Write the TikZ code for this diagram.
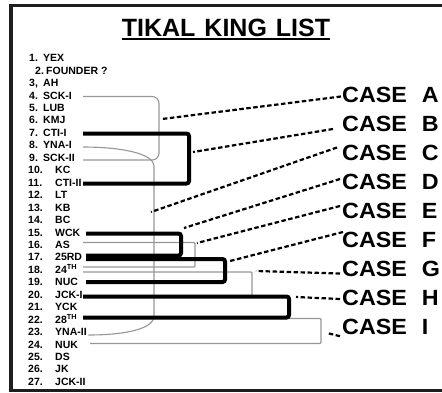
\documentclass[tikz,border=0pt]{standalone}
\usepackage{fontspec}
\setmainfont{Liberation Sans}
\newfontfamily\casefont{Liberation Sans}[FakeStretch=1.06]
\usepackage{tikz}
\usetikzlibrary{positioning,calc}
\definecolor{framec}{RGB}{30,30,30}
\definecolor{greyc}{RGB}{150,150,150}
\tikzset{
  num/.style     = {anchor=west, inner sep=0pt, font=\fontsize{10.5}{12}\selectfont\bfseries,
                    text height=7.5pt, text depth=2pt},
  king/.style    = {num},
  header/.style  = {anchor=base, inner sep=0pt, font=\fontsize{25}{28}\selectfont\bfseries},
  casebox/.style = {anchor=west, inner sep=0pt, font=\casefont\fontsize{22}{24}\selectfont\bfseries,
                    text height=15.75pt, text depth=0pt},
  faded/.style   = {draw=greyc, line width=1.1pt},
  heavy/.style   = {draw=black, line width=4pt, rounded corners=2.5pt},
  pointer/.style = {draw=black, line width=2.2pt, dash pattern=on 4.5pt off 2.5pt},
}

\begin{document}
\begin{tikzpicture}[x=1pt, y=-1pt]
\useasboundingbox (0,0) rectangle (442,392);

% frame and title
\draw[framec, line width=3.5pt] (442,5.5) -- (11,5.5) -- (11,390.5) -- (442,390.5);
\node[header] (title) at (226,36) {TIKAL\hspace{0.36em}KING\hspace{0.36em}LIST};
\draw[line width=2.6pt] ($(title.base west)+(0,3)$) -- ($(title.base east)+(0,3)$);

% the list
\node[num] (n1)  at (29,59)    {1.};  \node[king] (k1)  at (43,59)    {YEX};
\node[num] (n2)  at (35,71.5)  {2.};  \node[king] (k2)  at (46,71.5)  {FOUNDER ?};
\node[num] (n3)  at (29,84)    {3,};  \node[king] (k3)  at (43,84)    {AH};
\node[num] (n4)  at (29,96.5)  {4.};  \node[king] (k4)  at (43,96.5)  {SCK-I};
\node[num] (n5)  at (29,109)   {5.};  \node[king] (k5)  at (43,109)   {LUB};
\node[num] (n6)  at (29,121)   {6.};  \node[king] (k6)  at (43,121)   {KMJ};
\node[num] (n7)  at (29,133.5) {7.};  \node[king] (k7)  at (43,133.5) {CTI-I};
\node[num] (n8)  at (29,146)   {8.};  \node[king] (k8)  at (43,146)   {YNA-I};
\node[num] (n9)  at (29,158.5) {9.};  \node[king] (k9)  at (43,158.5) {SCK-II};
\node[num] (n10) at (28,171)   {10.}; \node[king] (k10) at (55,171)   {KC};
\node[num] (n11) at (28,183.5) {11.}; \node[king] (k11) at (55,183.5) {CTI-II};
\node[num] (n12) at (28,196)   {12.}; \node[king] (k12) at (55,196)   {LT};
\node[num] (n13) at (28,208.5) {13.}; \node[king] (k13) at (55,208.5) {KB};
\node[num] (n14) at (28,221)   {14.}; \node[king] (k14) at (55,221)   {BC};
\node[num] (n15) at (28,233.5) {15.}; \node[king] (k15) at (55,233.5) {WCK};
\node[num] (n16) at (28,246)   {16.}; \node[king] (k16) at (55,246)   {AS};
\node[num] (n17) at (28,258)   {17.}; \node[king] (k17) at (55,258)   {25RD};
\node[num] (n18) at (28,270.5) {18.}; \node[king] (k18) at (55,270.5) {24\textsuperscript{TH}};
\node[num] (n19) at (28,283)   {19.}; \node[king] (k19) at (55,283)   {NUC};
\node[num] (n20) at (28,295.5) {20.}; \node[king] (k20) at (55,295.5) {JCK-I};
\node[num] (n21) at (28,308)   {21.}; \node[king] (k21) at (55,308)   {YCK};
\node[num] (n22) at (28,320.5) {22.}; \node[king] (k22) at (55,320.5) {28\textsuperscript{TH}};
\node[num] (n23) at (28,333)   {23.}; \node[king] (k23) at (55,333)   {YNA-II};
\node[num] (n24) at (28,345.5) {24.}; \node[king] (k24) at (55,345.5) {NUK};
\node[num] (n25) at (28,358)   {25.}; \node[king] (k25) at (55,358)   {DS};
\node[num] (n26) at (28,370)   {26.}; \node[king] (k26) at (55,370)   {JK};
\node[num] (n27) at (28,382.5) {27.}; \node[king] (k27) at (55,382.5) {JCK-II};

\coordinate (gx) at (83,0);
\coordinate (tx) at (86,0);

% grey brackets
\draw[faded, rounded corners=7pt] (k4.east -| gx) -| (159,130) |- ($(k9.east -| gx)+(0,1.5)$);
\draw[faded] ($(k8.east -| gx)+(0,1)$) .. controls +(40,0) and +(0,-12) .. (154,166)
  -- (154,316) .. controls +(0,12) and +(40,0) .. ($(k23.east)+(1.5,2)$);
\draw[faded, rounded corners=1pt] ($(k16.east -| gx)+(0,-3.5)$) -| (195,255) |- ($(k18.east -| gx)+(0,-3.5)$);
\draw[faded, rounded corners=1pt] ($(k18.east -| gx)+(0,1.5)$) -| (252,285) |- (k20.east -| gx);
\draw[faded, rounded corners=1pt] ($(k22.east -| gx)+(0,-2)$) -| (321,330) |- ($(k24.east)+(12,-2)$);

% black brackets
\draw[heavy] (k7.east -| gx) -| (189,160) |- (k11.east -| gx);
\draw[heavy] (k15.east -| tx) -| (181,245) |- ($(k17.east -| tx)+(0,-2.5)$);
\draw[heavy] ($(k17.east -| tx)+(0,1)$) -| (225,270) |- ($(k19.east -| tx)+(0,-1)$);
\draw[heavy] ($(k20.east -| gx)+(0,1)$) -| (289,305) |- ($(k22.east -| gx)+(0,-3)$);

% cases
\node[casebox] (caseA) at (342,94.5) {CASE\hspace{15pt}A};
\node[casebox, below=12.85pt of caseA.south west, anchor=north west] (caseB) {CASE\hspace{15pt}B};
\node[casebox, below=12.85pt of caseB.south west, anchor=north west] (caseC) {CASE\hspace{15pt}C};
\node[casebox, below=12.85pt of caseC.south west, anchor=north west] (caseD) {CASE\hspace{15pt}D};
\node[casebox, below=12.85pt of caseD.south west, anchor=north west] (caseE) {CASE\hspace{15pt}E};
\node[casebox, below=12.85pt of caseE.south west, anchor=north west] (caseF) {CASE\hspace{15pt}F};
\node[casebox, below=12.85pt of caseF.south west, anchor=north west] (caseG) {CASE\hspace{15pt}G};
\node[casebox, below=12.85pt of caseG.south west, anchor=north west] (caseH) {CASE\hspace{15pt}H};
\node[casebox, below=12.85pt of caseH.south west, anchor=north west] (caseI) {CASE\hspace{15pt}I};

\coordinate (pA) at (162,119);
\coordinate (pB) at (193,152);
\coordinate (pC) at (151,212);
\coordinate (pD) at (184,228);
\coordinate (pE) at (197,243);
\coordinate (pF) at (230,261);
\coordinate (pG) at (256,271);
\coordinate (pH) at (296,297);
\coordinate (pI) at (327,333);

\draw[pointer] (caseA.west) ++(-1,2)   -- (pA);
\draw[pointer] (caseB.west) ++(-9,5.5) -- (pB);
\draw[pointer] (caseC.west) ++(-5,-5)  -- (pC);
\draw[pointer] (caseD.west) ++(-2,-2.5) -- (pD);
\draw[pointer] (caseE.west) ++(-2,-4.5) -- (pE);
\draw[pointer] (caseF.west) ++(1,-7.5) -- (pF);
\draw[pointer] (caseG.west) ++(-2,5)   -- (pG);
\draw[pointer] (caseH.west) ++(-2,1.5) -- (pH);
\draw[pointer] (caseI.west) ++(-2,9.7) -- (pI);

\end{tikzpicture}
\end{document}
